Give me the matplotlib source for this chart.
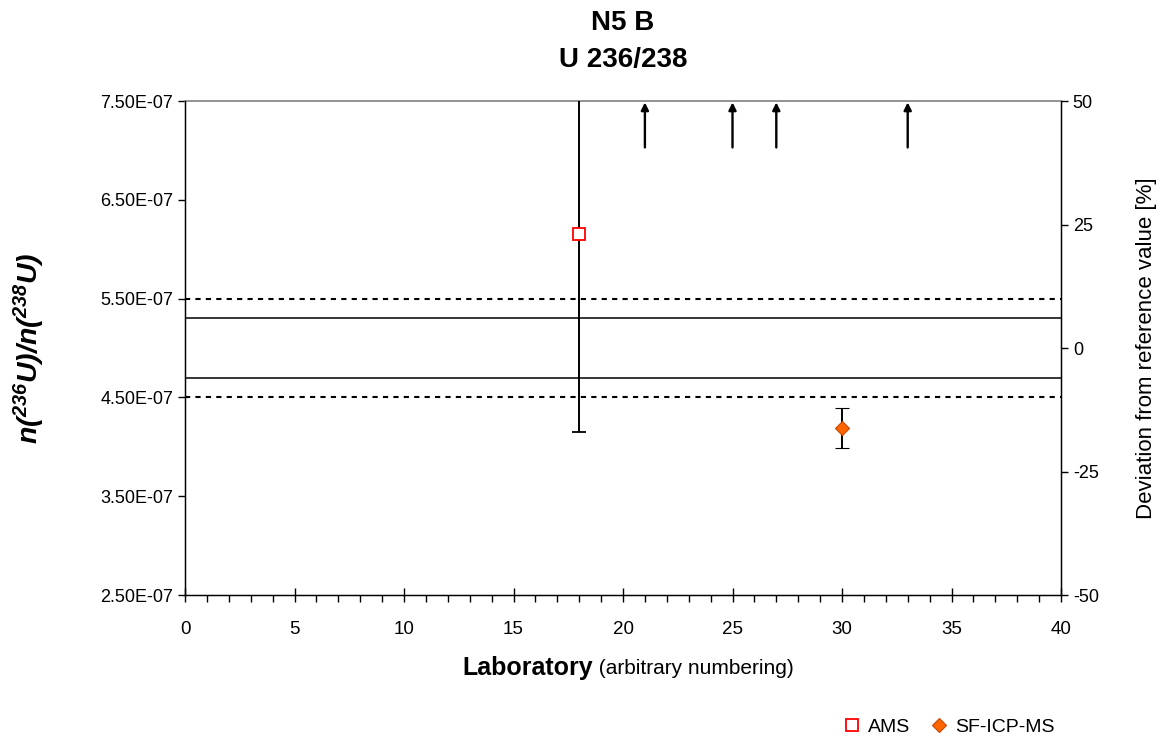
import matplotlib
matplotlib.use("Agg")
import matplotlib.pyplot as plt
from matplotlib.ticker import FuncFormatter, MultipleLocator
from matplotlib.lines import Line2D

plt.rcParams['font.family'] = ['Liberation Sans', 'DejaVu Sans']
plt.rcParams['axes.unicode_minus'] = False
plt.rcParams['mathtext.fontset'] = 'custom'
plt.rcParams['mathtext.it'] = 'Liberation Sans:italic:bold'
plt.rcParams['mathtext.rm'] = 'Liberation Sans:italic:bold'
plt.rcParams['mathtext.bf'] = 'Liberation Sans:bold'

# Reference value and uncertainty bands
ref_value = 5.0e-7
ref_unc = 0.3e-7
band_pct = 10.0

# Laboratory results: AMS
ams_lab = [18]
ams_val = [6.15e-7]
ams_err = [2.0e-7]

# Laboratory results: SF-ICP-MS
icp_lab = [30]
icp_val = [4.19e-7]
icp_err = [0.2e-7]

# Laboratories whose results lie above the plotted range
off_scale_labs = [21, 25, 27, 33]

# Axis tick values
y_ticks = [2.5e-7, 3.5e-7, 4.5e-7, 5.5e-7, 6.5e-7, 7.5e-7]
dev_ticks = [-50, -25, 0, 25, 50]

fig = plt.figure(figsize=(11.6, 7.42), dpi=100)
ax = fig.add_axes([185/1160, 1-595/742, (1061-185)/1160, (595-101)/742])

ymin, ymax = y_ticks[0], y_ticks[-1]
ax.set_xlim(0, 40)
ax.set_ylim(ymin, ymax)

# reference lines
ax.axhline(ref_value + ref_unc, color='black', lw=1.1)
ax.axhline(ref_value - ref_unc, color='black', lw=1.1)
ax.axhline(ref_value * (1 + band_pct/100), color='black', lw=1.5, ls=(0, (2.5, 2.5)))
ax.axhline(ref_value * (1 - band_pct/100), color='black', lw=1.5, ls=(0, (2.5, 2.5)))

# data points with uncertainties
ax.errorbar(ams_lab, ams_val, yerr=ams_err, fmt='s', ms=8.5, mfc='white', mec='#FF0000',
            mew=1.3, ecolor='black', elinewidth=1.4, capsize=4.8, capthick=1.4, zorder=5)
ax.errorbar(icp_lab, icp_val, yerr=icp_err, fmt='D', ms=7.6, mfc='#FF6600', mec='#CC4400',
            mew=0.8, ecolor='black', elinewidth=1.4, capsize=4.8, capthick=1.4, zorder=5)

# arrows for off-scale results
for lab in off_scale_labs:
    ax.annotate('', xy=(lab, ymax), xytext=(lab, 7.03e-7),
                arrowprops=dict(arrowstyle='-|>', color='black', lw=1.7,
                                mutation_scale=11, shrinkA=0, shrinkB=1))

# spines and ticks
ax.spines['top'].set_color('#808080')
ax.spines['top'].set_linewidth(1.2)
for s in ('left', 'bottom', 'right'):
    ax.spines[s].set_linewidth(1.0)

ax.set_yticks(y_ticks)
ax.yaxis.set_major_formatter(FuncFormatter(lambda v, p: f'{v:.2E}'))
ax.xaxis.set_major_locator(MultipleLocator(5))
ax.xaxis.set_minor_locator(MultipleLocator(1))
ax.tick_params(axis='x', which='major', direction='inout', length=10, width=1, labelsize=13.5, pad=14)
ax.tick_params(axis='x', which='minor', direction='out', length=5, width=1)
ax.tick_params(axis='y', which='major', direction='out', length=5, width=1, labelsize=13)

ax.set_ylabel(r'$n(^{236}U)/n(^{238}U)$', fontsize=20.5, labelpad=38)

# secondary axis: deviation in percent
ax2 = ax.twinx()
ax2.set_ylim((ymin/ref_value - 1)*100, (ymax/ref_value - 1)*100)
ax2.set_yticks(dev_ticks)
ax2.tick_params(axis='y', direction='out', length=5, width=1, labelsize=13)
ax2.spines['top'].set_visible(False)
ax2.set_ylabel('Deviation from reference value [%]', fontsize=16, labelpad=27)

# title
fig.text(623/1160, 1-23/742, 'N5 B', ha='center', va='center', fontsize=20, fontweight='bold')
fig.text(623/1160, 1-60/742, 'U 236/238', ha='center', va='center', fontsize=20, fontweight='bold')

# x-axis label in two styles
fig.canvas.draw()
r = fig.canvas.get_renderer()
t1 = fig.text(0, 1-668/742, 'Laboratory', fontsize=18, fontweight='bold', va='center')
t2 = fig.text(0, 1-668/742, ' (arbitrary numbering)', fontsize=15, va='center')
w1 = t1.get_window_extent(r).width
w2 = t2.get_window_extent(r).width
x0 = 628 - (w1 + w2) / 2
t1.set_x(x0/1160)
t2.set_x((x0 + w1)/1160)

# legend
handles = [Line2D([], [], ls='none', marker='s', ms=8.5, mfc='white', mec='#FF0000', mew=1.3),
           Line2D([], [], ls='none', marker='D', ms=7.6, mfc='#FF6600', mec='#CC4400', mew=0.8)]
fig.legend(handles, ['AMS', 'SF-ICP-MS'], ncol=2, frameon=False, fontsize=14,
           loc='center right', bbox_to_anchor=(1072/1160, 1-727/742),
           handletextpad=0.2, columnspacing=0.9, handlelength=1.2)

fig.savefig('out.png', dpi=100)
